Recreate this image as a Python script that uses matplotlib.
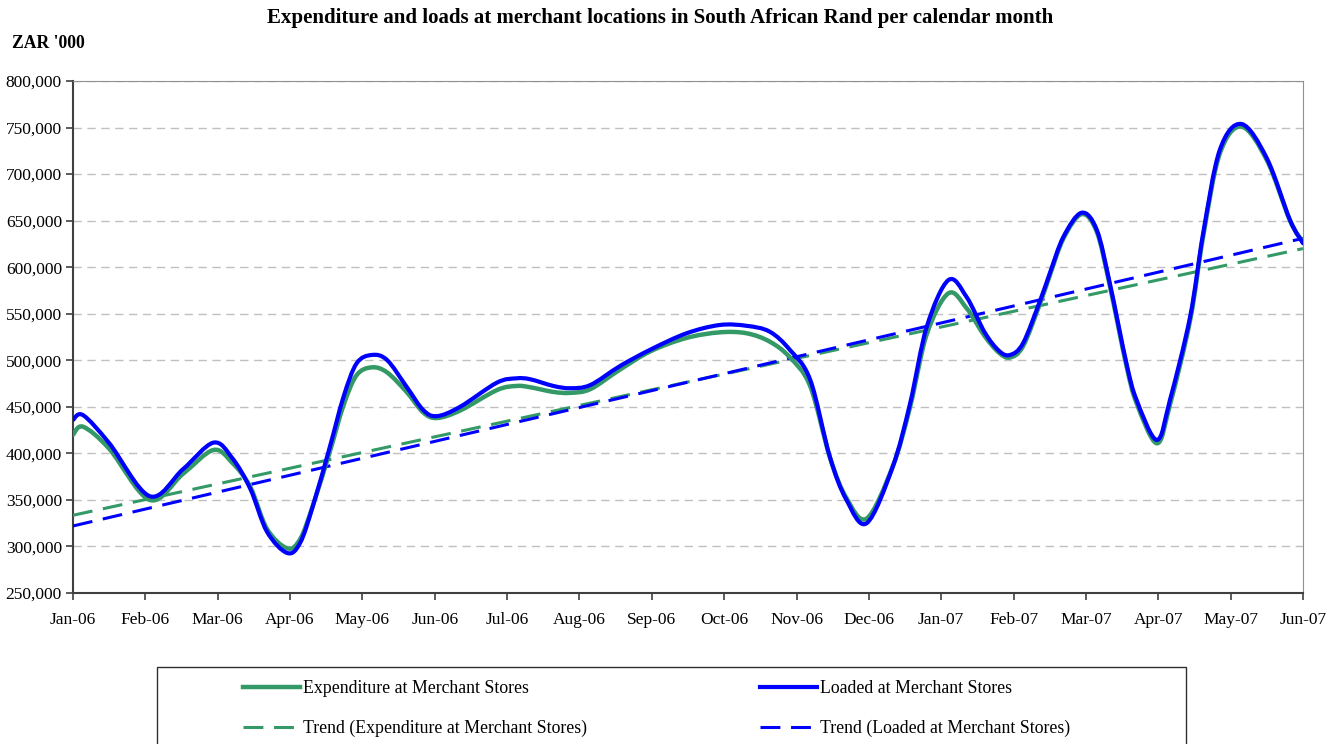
import numpy as np
import matplotlib
matplotlib.use("Agg")
import matplotlib.pyplot as plt
from matplotlib.path import Path
from matplotlib.patches import PathPatch, Rectangle
from matplotlib.lines import Line2D
from matplotlib.ticker import FuncFormatter

# ==========================
# DATA (ZAR '000)
# ==========================

month_labels = ["Jan-06", "Feb-06", "Mar-06", "Apr-06", "May-06", "Jun-06",
                "Jul-06", "Aug-06", "Sep-06", "Oct-06", "Nov-06", "Dec-06",
                "Jan-07", "Feb-07", "Mar-07", "Apr-07", "May-07", "Jun-07"]

# positions in months after Jan-06
pos = [0.0, 0.14, 0.5, 1.06, 1.52, 1.94, 2.2, 2.45, 2.68, 2.96, 3.14, 3.32, 3.55, 3.74,
       3.92, 4.13, 4.34, 4.61, 4.84, 5.03, 5.35, 5.86, 6.13, 6.32, 6.64, 6.87,
       7.15, 7.56, 7.99, 8.48, 8.94, 9.31, 9.63, 9.91, 10.19, 10.46, 10.69,
       10.97, 11.33, 11.57, 11.80, 12.10, 12.35, 12.6, 12.8, 12.95, 13.13,
       13.37, 13.5, 13.69, 13.94, 14.15, 14.33, 14.56, 14.70, 14.98, 15.16,
       15.44, 15.62, 15.85, 16.15, 16.50, 16.82, 17.0]

loaded = [436, 441, 411, 354, 383, 411.5, 395, 362, 316, 293, 304, 344.6, 407, 461,
          496.7, 505.7, 500.3, 471.6, 446.6, 440, 450, 476, 480.6, 479.6, 472.4, 470,
          473.4, 493.8, 511.8, 529, 537.9, 537, 530.7, 511, 478.8, 396.4, 350,
          325, 385.7, 453.8, 536, 586.2, 568, 530, 510, 505.7, 518.2,
          564.8, 593.4, 632.8, 658.5, 640, 582.7, 496.7, 457.3, 414.4, 457,
          546.8, 636.4, 725.9, 753.8, 717, 650.7, 625.7]

expenditure = [420, 428.6, 405, 350, 378, 403.6, 390, 364, 319, 298, 308, 345, 402, 452,
               484, 492.4, 487, 466, 444, 438, 446, 468, 472.4, 471, 466, 465,
               469, 490, 510, 524, 530, 529, 520, 503, 472, 396, 352,
               330, 386, 450, 528, 572, 556, 526, 508, 503, 515,
               562, 591, 631, 657, 638, 580, 494, 454, 410.8, 452,
               543, 633, 722, 751, 715, 650, 627]

# linear trend lines, start (Jan-06) and end (Jun-07)
trend_pos = [0.0, 17.0]
trend_expenditure = [333.5, 620.0]
trend_loaded = [322.0, 631.0]

loaded = np.array(loaded) * 1000
expenditure = np.array(expenditure) * 1000
trend_expenditure = np.array(trend_expenditure) * 1000
trend_loaded = np.array(trend_loaded) * 1000

GREEN = "#339966"
BLUE = "#0000FF"

plt.rcParams["font.family"] = ["Liberation Serif", "DejaVu Serif"]


def smooth_path(x, y):
    # Excel-style smoothed line: bezier segments through the points
    pts = np.column_stack([x, y]).astype(float)
    verts = [pts[0]]
    codes = [Path.MOVETO]
    n = len(pts)
    for i in range(n - 1):
        p0 = pts[max(i - 1, 0)]
        p1 = pts[i]
        p2 = pts[i + 1]
        p3 = pts[min(i + 2, n - 1)]
        c1 = p1 + (p2 - p0) / 6.0
        c2 = p2 - (p3 - p1) / 6.0
        verts += [c1, c2, p2]
        codes += [Path.CURVE4] * 3
    return Path(verts, codes)


# ==========================
# PLOT
# ==========================

fig = plt.figure(figsize=(13.44, 7.44), dpi=100)
ax = fig.add_axes([73 / 1344, 1 - 593 / 744, (1303 - 73) / 1344, (593 - 81) / 744])

ax.set_xlim(0, 17)
ax.set_ylim(250000, 800000)

ax.yaxis.grid(True, color="#c0c0c0", linestyle=(0, (6, 4)), linewidth=1)
ax.set_axisbelow(True)

ax.plot(trend_pos, trend_expenditure, color=GREEN, linewidth=2.2,
        dashes=(6.5, 3.5), zorder=3)
ax.plot(trend_pos, trend_loaded, color=BLUE, linewidth=2.2,
        dashes=(6.5, 3.5), zorder=3)

ax.add_patch(PathPatch(smooth_path(pos, expenditure), facecolor="none",
                       edgecolor=GREEN, linewidth=3.2, capstyle="round",
                       joinstyle="round", zorder=4))
ax.add_patch(PathPatch(smooth_path(pos, loaded), facecolor="none",
                       edgecolor=BLUE, linewidth=3.0, capstyle="round",
                       joinstyle="round", zorder=5))

ax.set_xticks(range(len(month_labels)))
ax.set_xticklabels(month_labels)
ax.set_yticks(np.arange(250000, 800001, 50000))
ax.yaxis.set_major_formatter(FuncFormatter(lambda v, p: f"{int(v):,}"))

ax.tick_params(axis="both", labelsize=12.5, direction="out", length=5,
               width=1.2, color="#404040")
ax.tick_params(axis="y", pad=3)
ax.tick_params(axis="x", pad=9)

ax.spines["left"].set_color("#404040")
ax.spines["left"].set_linewidth(1.5)
ax.spines["bottom"].set_color("#404040")
ax.spines["bottom"].set_linewidth(1.5)
ax.spines["top"].set_color("#909090")
ax.spines["right"].set_color("#909090")

fig.text(660 / 1344, 1 - 18 / 744, "Expenditure and loads at merchant locations in South African Rand per calendar month",
         ha="center", va="center", fontsize=15, fontweight="bold")
fig.text(12 / 1344, 1 - 44 / 744, "ZAR '000", ha="left", va="center",
         fontsize=12.7, fontweight="bold")

# ==========================
# LEGEND
# ==========================

handles = [
    Line2D([], [], color=GREEN, linewidth=3.2),
    Line2D([], [], color=GREEN, linewidth=2.2, dashes=(6.5, 3.5)),
    Line2D([], [], color=BLUE, linewidth=3.0),
    Line2D([], [], color=BLUE, linewidth=2.2, dashes=(6.5, 3.5)),
]
labels = [
    "Expenditure at Merchant Stores",
    "Trend (Expenditure at Merchant Stores)",
    "Loaded at Merchant Stores",
    "Trend (Loaded at Merchant Stores)",
]

fig.legend(handles, labels, ncol=2, loc="upper left",
           bbox_to_anchor=(243 / 1344, 1 - 680 / 744), frameon=False,
           fontsize=12.8, handlelength=3.2, handletextpad=0.2,
           columnspacing=9.7, labelspacing=1.3, borderpad=0,
           borderaxespad=0)

fig.patches.append(Rectangle((157 / 1344, -0.01), (1186 - 157) / 1344,
                             (744 - 667) / 744 + 0.01, fill=False,
                             edgecolor="#303030", linewidth=1,
                             transform=fig.transFigure, figure=fig))

fig.savefig("out.png", dpi=100)
